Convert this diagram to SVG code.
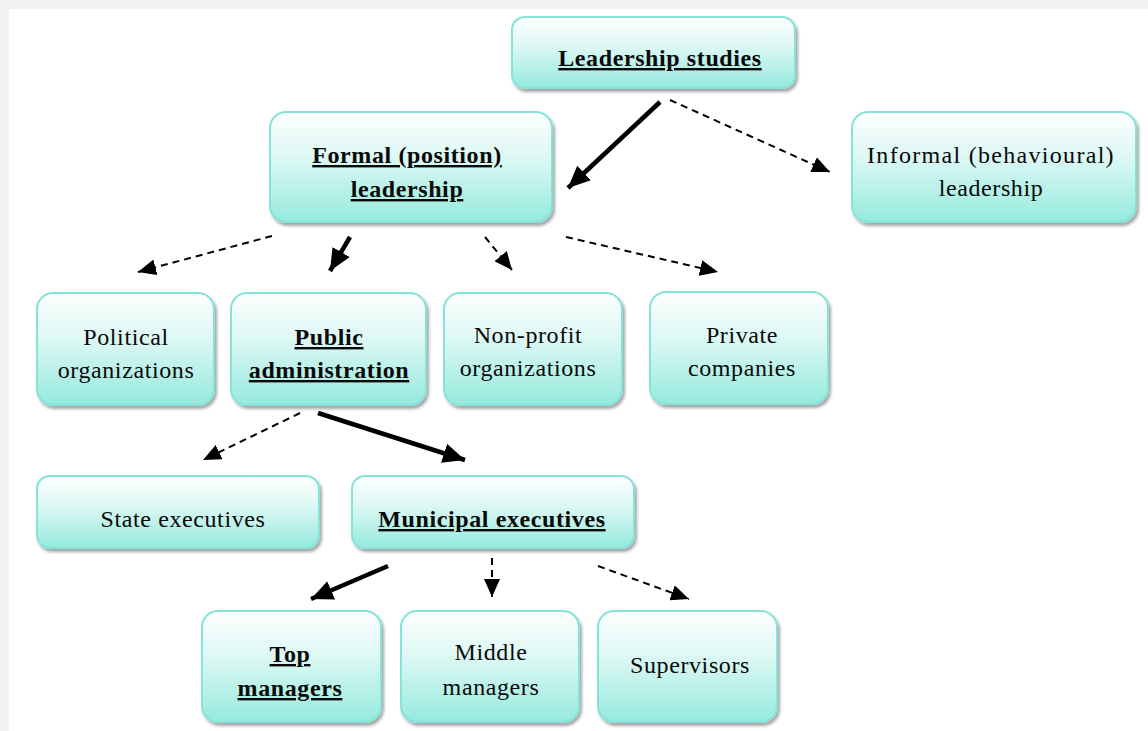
<svg xmlns="http://www.w3.org/2000/svg" width="1148" height="731" viewBox="0 0 1148 731">
<defs>
<linearGradient id="g" x1="0" y1="0" x2="0" y2="1">
<stop offset="0" stop-color="#fdfffe"/>
<stop offset="0.4" stop-color="#def8f4"/>
<stop offset="1" stop-color="#95eadd"/>
</linearGradient>
<filter id="sh" x="-10%" y="-10%" width="125%" height="130%">
<feDropShadow dx="2" dy="3" stdDeviation="1.8" flood-color="#000" flood-opacity="0.35"/>
</filter>
<marker id="ah" markerUnits="userSpaceOnUse" markerWidth="24" markerHeight="20" refX="22" refY="10" orient="auto">
<path d="M0,0 L22,10 L0,20 z" fill="#000"/>
</marker>
<marker id="ahd" markerUnits="userSpaceOnUse" markerWidth="20" markerHeight="16" refX="18" refY="8" orient="auto">
<path d="M0,0 L18,8 L0,16 z" fill="#000"/>
</marker>
</defs>
<style>
.box{fill:url(#g);stroke:#86e3d9;stroke-width:2;filter:url(#sh)}
text{font-family:"Liberation Serif","Times New Roman",serif;font-size:24px;fill:#0a0a0a;text-anchor:middle;letter-spacing:0.6px}
.b{font-weight:bold;text-decoration:underline}
.solid{stroke:#000;stroke-width:4.5;fill:none;marker-end:url(#ah)}
.dash{stroke:#000;stroke-width:2;fill:none;stroke-dasharray:7,5;marker-end:url(#ahd)}
</style>
<rect x="0" y="0" width="1148" height="731" fill="#f2f2f2"/>
<rect x="9" y="9" width="1139" height="722" fill="#ffffff"/>

<g id="connectors">
<line class="solid" x1="660" y1="102" x2="568" y2="188"/>
<line class="dash" x1="670" y1="100" x2="830" y2="172"/>
<line class="dash" x1="272" y1="236" x2="138" y2="272"/>
<line class="solid" x1="350" y1="237" x2="330" y2="271"/>
<line class="dash" x1="485" y1="237" x2="512" y2="270"/>
<line class="dash" x1="566" y1="237" x2="718" y2="272"/>
<line class="dash" x1="300" y1="413" x2="203" y2="460"/>
<line class="solid" x1="318" y1="413" x2="465" y2="460"/>
<line class="solid" x1="388" y1="566" x2="311" y2="599"/>
<line class="dash" x1="492" y1="558" x2="492" y2="597"/>
<line class="dash" x1="598" y1="566" x2="689" y2="599"/>
</g>

<g id="leadership-studies">
<rect class="box" x="512" y="17" width="283" height="71" rx="13"/>
<text class="b" x="660" y="66">Leadership studies</text>
</g>
<g id="formal">
<rect class="box" x="270" y="112" width="282" height="110" rx="16"/>
<text class="b" x="407" y="163">Formal (position)</text>
<text class="b" x="407" y="197">leadership</text>
</g>
<g id="informal">
<rect class="box" x="852" y="112" width="284" height="110" rx="16"/>
<text x="991" y="163" style="letter-spacing:1.3px">Informal (behavioural)</text>
<text x="991" y="196">leadership</text>
</g>
<g id="political">
<rect class="box" x="37" y="293" width="177" height="112" rx="16"/>
<text x="126" y="345">Political</text>
<text x="126" y="378">organizations</text>
</g>
<g id="public">
<rect class="box" x="231" y="293" width="195" height="112" rx="16"/>
<text class="b" x="329" y="345">Public</text>
<text class="b" x="329" y="378">administration</text>
</g>
<g id="nonprofit">
<rect class="box" x="444" y="293" width="178" height="112" rx="16"/>
<text x="528" y="343">Non-profit</text>
<text x="528" y="376">organizations</text>
</g>
<g id="private">
<rect class="box" x="650" y="292" width="178" height="112" rx="16"/>
<text x="742" y="343">Private</text>
<text x="742" y="376">companies</text>
</g>
<g id="state">
<rect class="box" x="37" y="476" width="282" height="72" rx="13"/>
<text x="183" y="527">State executives</text>
</g>
<g id="municipal">
<rect class="box" x="352" y="476" width="282" height="72" rx="13"/>
<text class="b" x="492" y="527">Municipal executives</text>
</g>
<g id="top">
<rect class="box" x="202" y="611" width="179" height="111" rx="16"/>
<text class="b" x="290" y="662">Top</text>
<text class="b" x="290" y="696">managers</text>
</g>
<g id="middle">
<rect class="box" x="401" y="611" width="178" height="111" rx="16"/>
<text x="491" y="660">Middle</text>
<text x="491" y="695">managers</text>
</g>
<g id="supervisors">
<rect class="box" x="598" y="611" width="179" height="111" rx="16"/>
<text x="690" y="673">Supervisors</text>
</g>
</svg>
